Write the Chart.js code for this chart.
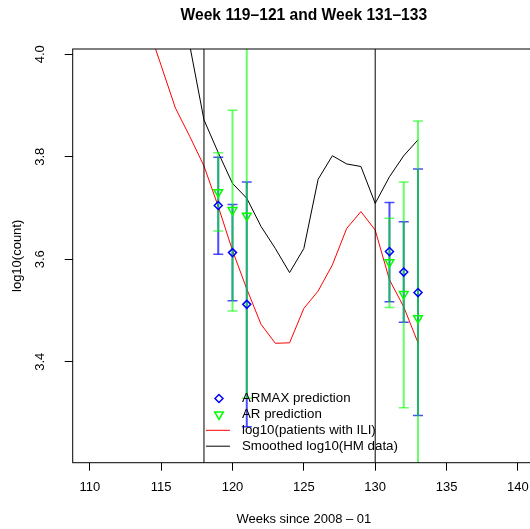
<!DOCTYPE html>
<html>
<head>
<meta charset="utf-8">
<script src="https://cdn.jsdelivr.net/npm/chart.js@4.4.1/dist/chart.umd.min.js"></script>
<style>
  html, body { margin: 0; padding: 0; background: #fff; overflow: hidden; }
  #wrap { width: 535px; height: 529px; }
</style>
</head>
<body>
<div id="wrap"><canvas id="chart" width="535" height="529"></canvas></div>
<script>
// log10 of weekly counts
const iliWeeks = [113, 114, 115, 116, 117, 118, 119, 120, 121, 122, 123, 124, 125, 126, 127, 128, 129, 130, 131, 132, 133];
const iliLog = [4.150, 4.060, 3.978, 3.895, 3.840, 3.782, 3.703, 3.617, 3.542, 3.473, 3.436, 3.437, 3.504, 3.538, 3.589, 3.660, 3.693, 3.657, 3.560, 3.507, 3.437];

const hmWeeks = [116, 117, 118, 119, 120, 121, 122, 123, 124, 125, 126, 127, 128, 129, 130, 131, 132, 133];
const hmSmooth = [4.170, 4.018, 3.872, 3.808, 3.748, 3.719, 3.664, 3.621, 3.574, 3.621, 3.756, 3.802, 3.786, 3.781, 3.709, 3.761, 3.802, 3.833];

// predictions with intervals
const predWeeks = [119, 120, 121, 131, 132, 133];
const armaxPred = [3.705, 3.613, 3.512, 3.615, 3.575, 3.535];
const armaxLo = [3.610, 3.519, 3.273, 3.517, 3.477, 3.295];
const armaxHi = [3.799, 3.707, 3.751, 3.711, 3.673, 3.776];
const arPred = [3.731, 3.696, 3.685, 3.594, 3.532, 3.485];
const arLo = [3.655, 3.499, 3.329, 3.506, 3.310, 3.096];
const arHi = [3.808, 3.891, 4.037, 3.680, 3.751, 3.870];

const cutWeeks = [118, 130];
const xTicks = [110, 115, 120, 125, 130, 135, 140];
const yTicks = [3.4, 3.6, 3.8, 4.0];

// xlim 110..140 with R's 4% extension
const X_MIN = 108.8, X_MAX = 141.2;
const Y_MIN = 3.203, Y_MAX = 4.0103;

const BLUE_BAR = "rgba(0,0,255,0.7)";
const GREEN_BAR = "rgba(0,255,0,0.6)";

const toXY = (xs, ys) => xs.map((x, i) => ({ x: x, y: ys[i] }));

const errorBars = (lo, hi, color) => predWeeks.map((w, i) => ({
  data: [{ x: w, y: lo[i] }, { x: w, y: hi[i] }],
  borderColor: color,
  borderWidth: 2,
  pointStyle: "line",
  pointRadius: 5,
  pointBorderColor: color,
  pointBorderWidth: 1.5
}));

const cutLines = cutWeeks.map((w) => ({
  data: [{ x: w, y: Y_MIN - 1 }, { x: w, y: Y_MAX + 1 }],
  borderColor: "#000",
  borderWidth: 1,
  pointRadius: 0
}));

Chart.defaults.font.family = '"Liberation Sans", Arial, Helvetica, sans-serif';
Chart.defaults.font.size = 13;
Chart.defaults.color = "#000";

// plot frame
const boxPlugin = {
  id: "box",
  afterDraw(chart) {
    const { ctx, chartArea: a } = chart;
    ctx.save();
    ctx.strokeStyle = "#000";
    ctx.lineWidth = 1;
    ctx.strokeRect(a.left, a.top, a.right - a.left, a.bottom - a.top);
    ctx.restore();
  }
};

// legend without a frame, placed like the R one
const legendItems = [
  { label: "ARMAX prediction", kind: "point", style: "rectRot", radius: 4, rotation: 0, color: "#0000ff" },
  { label: "AR prediction", kind: "point", style: "triangle", radius: 5, rotation: 180, color: "#00ff00" },
  { label: "log10(patients with ILI)", kind: "line", color: "#ff0000" },
  { label: "Smoothed log10(HM data)", kind: "line", color: "#000000" }
];

const legendPlugin = {
  id: "rlegend",
  afterDraw(chart) {
    const { ctx, chartArea } = chart;
    const x0 = chart.scales.x.getPixelForValue(118);
    const rowH = 15.9;
    const yLast = chartArea.bottom - 16.5;
    ctx.save();
    ctx.font = '13.3px "Liberation Sans", Arial, Helvetica, sans-serif';
    ctx.textBaseline = "middle";
    ctx.textAlign = "left";
    legendItems.forEach((it, i) => {
      const y = yLast - (legendItems.length - 1 - i) * rowH;
      if (it.kind === "point") {
        ctx.strokeStyle = it.color;
        ctx.fillStyle = "rgba(0,0,0,0)";
        ctx.lineWidth = 1.5;
        Chart.helpers.drawPoint(ctx, {
          pointStyle: it.style, radius: it.radius, rotation: it.rotation, borderWidth: 1.5
        }, x0 + 15, y);
      } else {
        ctx.strokeStyle = it.color;
        ctx.lineWidth = 1;
        ctx.beginPath();
        ctx.moveTo(x0 + 2, y);
        ctx.lineTo(x0 + 26, y);
        ctx.stroke();
      }
      ctx.fillStyle = "#000";
      ctx.fillText(it.label, x0 + 38, y);
    });
    ctx.restore();
  }
};

new Chart(document.getElementById("chart"), {
  type: "line",
  data: {
    datasets: [
      {
        data: toXY(predWeeks, arPred),
        showLine: false,
        pointStyle: "triangle",
        pointRotation: 180,
        pointRadius: 5,
        pointBorderColor: "#00ff00",
        pointBackgroundColor: "rgba(0,0,0,0)",
        pointBorderWidth: 1.5
      },
      {
        data: toXY(predWeeks, armaxPred),
        showLine: false,
        pointStyle: "rectRot",
        pointRadius: 4,
        pointBorderColor: "#0000ff",
        pointBackgroundColor: "rgba(0,0,0,0)",
        pointBorderWidth: 1.5
      },
      ...errorBars(arLo, arHi, GREEN_BAR),
      ...errorBars(armaxLo, armaxHi, BLUE_BAR),
      ...cutLines,
      { data: toXY(hmWeeks, hmSmooth), borderColor: "#000", borderWidth: 1, pointRadius: 0 },
      { data: toXY(iliWeeks, iliLog), borderColor: "#ff0000", borderWidth: 1, pointRadius: 0 }
    ]
  },
  options: {
    responsive: false,
    animation: false,
    devicePixelRatio: 1,
    elements: { line: { tension: 0 } },
    layout: { padding: 0, autoPadding: false },
    plugins: {
      legend: { display: false },
      tooltip: { enabled: false },
      title: {
        display: true,
        text: "Week 119\u2013121 and Week 131\u2013133",
        fullSize: false,
        color: "#000",
        font: { size: 15.6, weight: "bold" },
        padding: { top: 6.64, bottom: 23.64 }
      }
    },
    scales: {
      x: {
        type: "linear",
        min: X_MIN,
        max: X_MAX,
        afterBuildTicks: (s) => { s.ticks = xTicks.map((v) => ({ value: v })); },
        afterFit: (s) => { s.height = 66.3; s.paddingLeft = 0; s.paddingRight = 0; },
        border: { display: false },
        grid: { drawOnChartArea: false, tickLength: 8, tickColor: "#000", tickWidth: 1 },
        ticks: { autoSkip: false, maxRotation: 0, padding: 9.2, callback: (v) => String(v) },
        title: { display: true, text: "Weeks since 2008 \u2013 01", padding: { top: 0, bottom: 1.7 } }
      },
      y: {
        min: Y_MIN,
        max: Y_MAX,
        afterBuildTicks: (s) => { s.ticks = yTicks.map((v) => ({ value: v })); },
        afterFit: (s) => { s.width = 72.7; s.paddingTop = 0; s.paddingBottom = 0; },
        border: { display: false },
        grid: { drawOnChartArea: false, tickLength: 8, tickColor: "#000", tickWidth: 1 },
        ticks: { autoSkip: false, minRotation: 90, maxRotation: 90, crossAlign: "center", padding: 15.7, callback: (v) => v.toFixed(1) },
        title: { display: true, text: "log10(count)", padding: { top: 9.7, bottom: 0 } }
      }
    }
  },
  plugins: [boxPlugin, legendPlugin]
});
</script>
</body>
</html>
